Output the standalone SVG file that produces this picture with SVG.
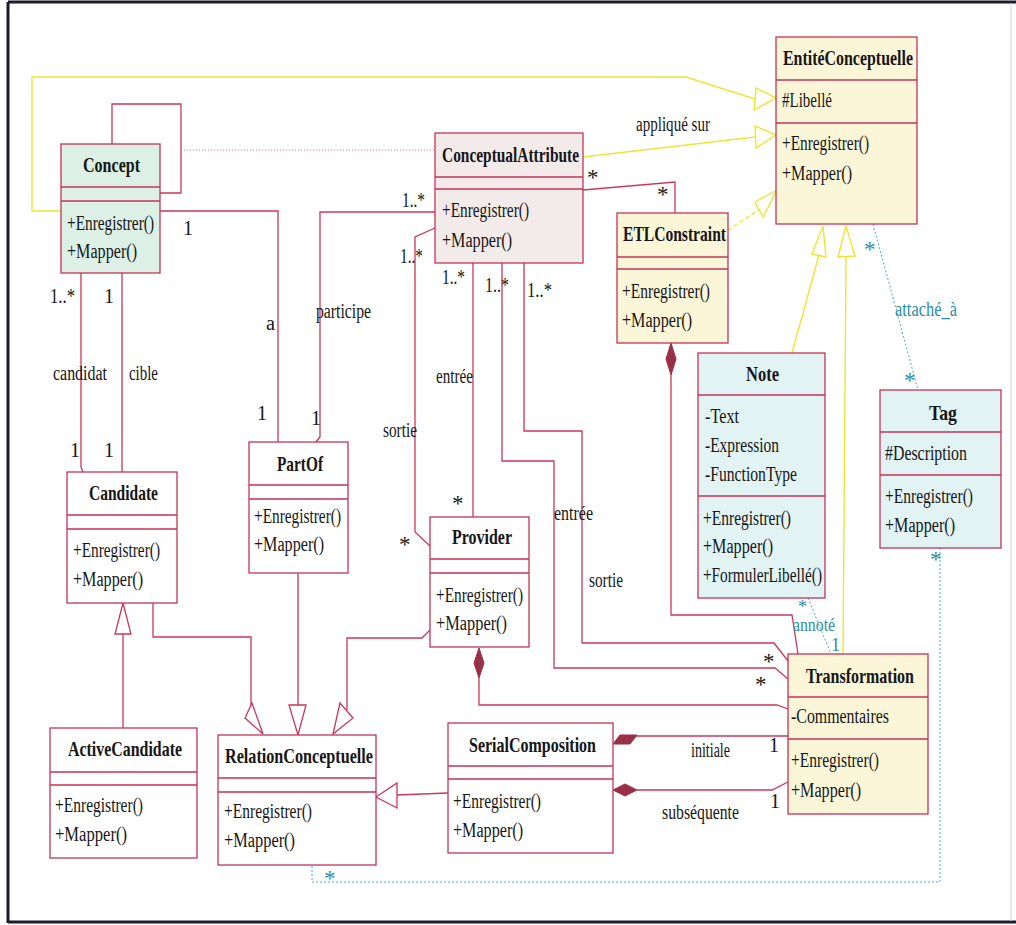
<svg xmlns="http://www.w3.org/2000/svg" width="1016" height="925" viewBox="0 0 1016 925">
  <style>
    .box { stroke: #c4345a; stroke-width: 1.3; }
    .white { fill: #ffffff; }
    .mint { fill: #dcf0e6; }
    .yel { fill: #fbf6d8; }
    .pink { fill: #f3eaea; }
    .cyan { fill: #e2f3f3; }
    .sep { stroke: #c4345a; stroke-width: 1.3; fill: none; }
    .t { font-family: "Liberation Serif", "Times New Roman", serif; font-size: 20px; fill: #161616; }
    .b { font-weight: bold; font-size: 22px; }
    .star { font-size: 23px; }
    .sm { font-size: 18px; }
    .teal { fill: #2a8ea6; }
    .assoc { fill: none; stroke: #c8385c; stroke-width: 1.3; }
    .dotp { fill: none; stroke: #e07090; stroke-width: 1; stroke-dasharray: 1 2; }
    .gen { fill: none; stroke: #f0e432; stroke-width: 1.4; }
    .gend { fill: none; stroke: #f0e432; stroke-width: 1.4; stroke-dasharray: 4 3; }
    .triP { fill: #ffffff; stroke: #c8385c; stroke-width: 1.3; }
    .triY { fill: #ffffff; stroke: #f0e432; stroke-width: 1.4; }
    .link { fill: none; stroke: #4aaccc; stroke-width: 1; stroke-dasharray: 2 2; }
    .dia { fill: #9a3048; stroke: #9a3048; stroke-width: 1; }
    .frame { fill: none; stroke: #1c1c28; stroke-width: 3; }
  </style>

  <!-- outer frame -->
  <path class="frame" d="M8,2 H1016 M8,2 V923 M8,922 H1016"/>
  <line x1="1011" y1="3" x2="1011" y2="921" stroke="#cfcfcf" stroke-width="1"/>

  <!-- connectors -->
  <g id="connectors">
    <!-- associations -->
    <path class="assoc" d="M112,144 V104 H181 V193 H160"/>
    <path class="dotp" d="M181,150 H435"/>
    <path class="assoc" d="M160,211 H278 V442"/>
    <path class="assoc" d="M435,212 H320 V437 L316,442"/>
    <path class="assoc" d="M81,273 V467 L83,472"/>
    <path class="assoc" d="M122,273 V472"/>
    <path class="assoc" d="M435,228 L415,237 V532 L430,546"/>
    <path class="assoc" d="M473,263 V517"/>
    <path class="assoc" d="M502,263 V461 H554 V668 H775 L788,679"/>
    <path class="assoc" d="M524,263 V431 H582 V643 H774 L788,661"/>
    <path class="assoc" d="M583,190 L675,182 V213"/>

    <!-- compositions -->
    <path class="assoc" d="M671,375 V615 H792 L798,654"/>
    <polygon class="dia" points="671,343 676,359 671,375 666,359"/>
    <path class="assoc" d="M479,678 V705 H777 L788,709"/>
    <polygon class="dia" points="479,648 484,663 479,678 474,663"/>
    <path class="assoc" d="M633,736 H788"/>
    <polygon class="dia" points="613,744 620,735 637,735 630,744"/>
    <path class="assoc" d="M637,790 H772 L788,782"/>
    <polygon class="dia" points="613,790 625,784 637,790 625,796"/>

    <!-- generalizations to RelationConceptuelle / Candidate -->
    <path class="assoc" d="M123,728 V634"/>
    <polygon class="triP" points="123,603 131,634 115,634"/>
    <path class="assoc" d="M153,603 V637 H251 V708"/>
    <polygon class="triP" points="263,734 252,703 245,718"/>
    <path class="assoc" d="M298,573 V705"/>
    <polygon class="triP" points="298,735 289,705 306,705"/>
    <path class="assoc" d="M430,630 L422,638 H347 V710"/>
    <polygon class="triP" points="333,734 340,703 353,718"/>
    <path class="assoc" d="M448,793 L397,795"/>
    <polygon class="triP" points="376,797 397,783 397,808"/>

    <!-- generalizations to EntitéConceptuelle -->
    <path class="gen" d="M61,211 H32 V77 H686 L755,99"/>
    <polygon class="triY" points="776,98 756,88 754,110"/>
    <path class="gen" d="M583,157 L755,137"/>
    <polygon class="triY" points="776,135 755,126 756,148"/>
    <path class="gend" d="M728,230 L759,210"/>
    <polygon class="triY" points="777,190 755,202 763,217"/>
    <path class="gen" d="M792,353 L819,255"/>
    <polygon class="triY" points="823,226 812,254 826,257"/>
    <path class="gen" d="M843,654 L846,257"/>
    <polygon class="triY" points="846,226 838,257 855,256"/>

    <!-- attachment links -->
    <path class="link" d="M873,224 L918,390"/>
    <path class="link" d="M808,598 L831,654"/>
    <path class="link" d="M940,548 V882 H312 V865"/>

    <!-- association labels -->
    <text class="t" x="636" y="131" textLength="74" lengthAdjust="spacingAndGlyphs">appliqué sur</text>
    <text class="t" x="53" y="380" textLength="54" lengthAdjust="spacingAndGlyphs">candidat</text>
    <text class="t" x="129" y="380" textLength="29" lengthAdjust="spacingAndGlyphs">cible</text>
    <text class="t" x="266" y="330" textLength="9" lengthAdjust="spacingAndGlyphs">a</text>
    <text class="t" x="316" y="318" textLength="55" lengthAdjust="spacingAndGlyphs">participe</text>
    <text class="t" x="383" y="437" textLength="34" lengthAdjust="spacingAndGlyphs">sortie</text>
    <text class="t" x="436" y="383" textLength="37" lengthAdjust="spacingAndGlyphs">entrée</text>
    <text class="t" x="554" y="520" textLength="39" lengthAdjust="spacingAndGlyphs">entrée</text>
    <text class="t" x="589" y="587" textLength="34" lengthAdjust="spacingAndGlyphs">sortie</text>
    <text class="t" x="691" y="757" textLength="39" lengthAdjust="spacingAndGlyphs">initiale</text>
    <text class="t" x="662" y="819" textLength="77" lengthAdjust="spacingAndGlyphs">subséquente</text>

    <!-- multiplicities -->
    <text class="t" x="183" y="235">1</text>
    <text class="t" x="50" y="303" textLength="25" lengthAdjust="spacingAndGlyphs">1..*</text>
    <text class="t" x="104" y="303">1</text>
    <text class="t" x="70" y="457">1</text>
    <text class="t" x="104" y="457">1</text>
    <text class="t" x="257" y="420">1</text>
    <text class="t" x="311" y="425">1</text>
    <text class="t" x="402" y="207" textLength="23" lengthAdjust="spacingAndGlyphs">1..*</text>
    <text class="t" x="400" y="263" textLength="23" lengthAdjust="spacingAndGlyphs">1..*</text>
    <text class="t" x="442" y="284" textLength="23" lengthAdjust="spacingAndGlyphs">1..*</text>
    <text class="t" x="485" y="292" textLength="24" lengthAdjust="spacingAndGlyphs">1..*</text>
    <text class="t" x="527" y="297" textLength="25" lengthAdjust="spacingAndGlyphs">1..*</text>
    <text class="t star" x="587" y="185">*</text>
    <text class="t star" x="657" y="202">*</text>
    <text class="t star" x="399" y="552">*</text>
    <text class="t star" x="452" y="511">*</text>
    <text class="t star" x="763" y="669">*</text>
    <text class="t star" x="755" y="692">*</text>
    <text class="t" x="769" y="752">1</text>
    <text class="t" x="770" y="808">1</text>

    <!-- link labels -->
    <text class="t star teal" x="864" y="257">*</text>
    <text class="t teal" x="895" y="316" textLength="62" lengthAdjust="spacingAndGlyphs">attaché_à</text>
    <text class="t star teal" x="904" y="388">*</text>
    <text class="t star teal" x="930" y="567">*</text>
    <text class="t sm teal" x="798" y="613">*</text>
    <text class="t sm teal" x="793" y="631" textLength="42" lengthAdjust="spacingAndGlyphs">annoté</text>
    <text class="t sm teal" x="831" y="651">1</text>
    <text class="t star teal" x="324" y="886">*</text>
  </g>

  <!-- classes -->
  <g id="n-concept">
    <rect class="box mint" x="61" y="144" width="99" height="129"/>
    <path class="sep" d="M61,187 H160 M61,201 H160"/>
    <text class="t b" x="83" y="172" textLength="57" lengthAdjust="spacingAndGlyphs">Concept</text>
    <text class="t" x="67" y="230" textLength="87" lengthAdjust="spacingAndGlyphs">+Enregistrer()</text>
    <text class="t" x="67" y="258" textLength="70" lengthAdjust="spacingAndGlyphs">+Mapper()</text>
  </g>

  <g id="n-entite-conceptuelle">
    <rect class="box yel" x="776" y="37" width="141" height="187"/>
    <path class="sep" d="M776,80 H917 M776,123 H917"/>
    <text class="t b" x="783" y="65" textLength="130" lengthAdjust="spacingAndGlyphs">EntitéConceptuelle</text>
    <text class="t" x="782" y="107" textLength="50" lengthAdjust="spacingAndGlyphs">#Libellé</text>
    <text class="t" x="782" y="150" textLength="87" lengthAdjust="spacingAndGlyphs">+Enregistrer()</text>
    <text class="t" x="782" y="180" textLength="70" lengthAdjust="spacingAndGlyphs">+Mapper()</text>
  </g>

  <g id="n-conceptual-attribute">
    <rect class="box pink" x="435" y="133" width="148" height="130"/>
    <path class="sep" d="M435,177 H583 M435,189 H583"/>
    <text class="t b" x="442" y="162" textLength="137" lengthAdjust="spacingAndGlyphs">ConceptualAttribute</text>
    <text class="t" x="442" y="217" textLength="87" lengthAdjust="spacingAndGlyphs">+Enregistrer()</text>
    <text class="t" x="442" y="247" textLength="70" lengthAdjust="spacingAndGlyphs">+Mapper()</text>
  </g>

  <g id="n-etl-constraint">
    <rect class="box yel" x="617" y="213" width="111" height="130"/>
    <path class="sep" d="M617,257 H728 M617,269 H728"/>
    <text class="t b" x="623" y="241" textLength="103" lengthAdjust="spacingAndGlyphs">ETLConstraint</text>
    <text class="t" x="622" y="298" textLength="88" lengthAdjust="spacingAndGlyphs">+Enregistrer()</text>
    <text class="t" x="622" y="327" textLength="70" lengthAdjust="spacingAndGlyphs">+Mapper()</text>
  </g>

  <g id="n-candidate">
    <rect class="box white" x="67" y="472" width="110" height="131"/>
    <path class="sep" d="M67,515 H177 M67,529 H177"/>
    <text class="t b" x="89" y="500" textLength="69" lengthAdjust="spacingAndGlyphs">Candidate</text>
    <text class="t" x="73" y="557" textLength="87" lengthAdjust="spacingAndGlyphs">+Enregistrer()</text>
    <text class="t" x="73" y="586" textLength="70" lengthAdjust="spacingAndGlyphs">+Mapper()</text>
  </g>

  <g id="n-part-of">
    <rect class="box white" x="249" y="442" width="99" height="131"/>
    <path class="sep" d="M249,485 H348 M249,499 H348"/>
    <text class="t b" x="277" y="471" textLength="46" lengthAdjust="spacingAndGlyphs">PartOf</text>
    <text class="t" x="254" y="523" textLength="87" lengthAdjust="spacingAndGlyphs">+Enregistrer()</text>
    <text class="t" x="254" y="551" textLength="70" lengthAdjust="spacingAndGlyphs">+Mapper()</text>
  </g>

  <g id="n-provider">
    <rect class="box white" x="430" y="517" width="99" height="130"/>
    <path class="sep" d="M430,559 H529 M430,573 H529"/>
    <text class="t b" x="452" y="544" textLength="60" lengthAdjust="spacingAndGlyphs">Provider</text>
    <text class="t" x="436" y="602" textLength="87" lengthAdjust="spacingAndGlyphs">+Enregistrer()</text>
    <text class="t" x="436" y="630" textLength="71" lengthAdjust="spacingAndGlyphs">+Mapper()</text>
  </g>

  <g id="n-note">
    <rect class="box cyan" x="698" y="353" width="127" height="245"/>
    <path class="sep" d="M698,395 H825 M698,496 H825"/>
    <text class="t b" x="746" y="381" textLength="33" lengthAdjust="spacingAndGlyphs">Note</text>
    <text class="t" x="705" y="423" textLength="34" lengthAdjust="spacingAndGlyphs">-Text</text>
    <text class="t" x="705" y="452" textLength="74" lengthAdjust="spacingAndGlyphs">-Expression</text>
    <text class="t" x="705" y="481" textLength="92" lengthAdjust="spacingAndGlyphs">-FunctionType</text>
    <text class="t" x="703" y="525" textLength="88" lengthAdjust="spacingAndGlyphs">+Enregistrer()</text>
    <text class="t" x="703" y="553" textLength="70" lengthAdjust="spacingAndGlyphs">+Mapper()</text>
    <text class="t" x="703" y="582" textLength="119" lengthAdjust="spacingAndGlyphs">+FormulerLibellé()</text>
  </g>

  <g id="n-tag">
    <rect class="box cyan" x="880" y="390" width="121" height="158"/>
    <path class="sep" d="M880,432 H1001 M880,475 H1001"/>
    <text class="t b" x="929" y="420" textLength="28" lengthAdjust="spacingAndGlyphs">Tag</text>
    <text class="t" x="885" y="460" textLength="82" lengthAdjust="spacingAndGlyphs">#Description</text>
    <text class="t" x="885" y="503" textLength="88" lengthAdjust="spacingAndGlyphs">+Enregistrer()</text>
    <text class="t" x="885" y="532" textLength="70" lengthAdjust="spacingAndGlyphs">+Mapper()</text>
  </g>

  <g id="n-active-candidate">
    <rect class="box white" x="50" y="728" width="147" height="130"/>
    <path class="sep" d="M50,772 H197 M50,785 H197"/>
    <text class="t b" x="68" y="756" textLength="114" lengthAdjust="spacingAndGlyphs">ActiveCandidate</text>
    <text class="t" x="55" y="812" textLength="88" lengthAdjust="spacingAndGlyphs">+Enregistrer()</text>
    <text class="t" x="55" y="841" textLength="72" lengthAdjust="spacingAndGlyphs">+Mapper()</text>
  </g>

  <g id="n-relation-conceptuelle">
    <rect class="box white" x="218" y="735" width="158" height="130"/>
    <path class="sep" d="M218,778 H376 M218,792 H376"/>
    <text class="t b" x="225" y="763" textLength="148" lengthAdjust="spacingAndGlyphs">RelationConceptuelle</text>
    <text class="t" x="224" y="818" textLength="88" lengthAdjust="spacingAndGlyphs">+Enregistrer()</text>
    <text class="t" x="224" y="847" textLength="71" lengthAdjust="spacingAndGlyphs">+Mapper()</text>
  </g>

  <g id="n-serial-composition">
    <rect class="box white" x="448" y="723" width="165" height="130"/>
    <path class="sep" d="M448,766 H613 M448,779 H613"/>
    <text class="t b" x="469" y="752" textLength="127" lengthAdjust="spacingAndGlyphs">SerialComposition</text>
    <text class="t" x="453" y="808" textLength="88" lengthAdjust="spacingAndGlyphs">+Enregistrer()</text>
    <text class="t" x="453" y="837" textLength="70" lengthAdjust="spacingAndGlyphs">+Mapper()</text>
  </g>

  <g id="n-transformation">
    <rect class="box yel" x="788" y="654" width="140" height="160"/>
    <path class="sep" d="M788,697 H928 M788,739 H928"/>
    <text class="t b" x="806" y="683" textLength="108" lengthAdjust="spacingAndGlyphs">Transformation</text>
    <text class="t" x="791" y="723" textLength="98" lengthAdjust="spacingAndGlyphs">-Commentaires</text>
    <text class="t" x="791" y="767" textLength="88" lengthAdjust="spacingAndGlyphs">+Enregistrer()</text>
    <text class="t" x="791" y="797" textLength="70" lengthAdjust="spacingAndGlyphs">+Mapper()</text>
  </g>
</svg>
